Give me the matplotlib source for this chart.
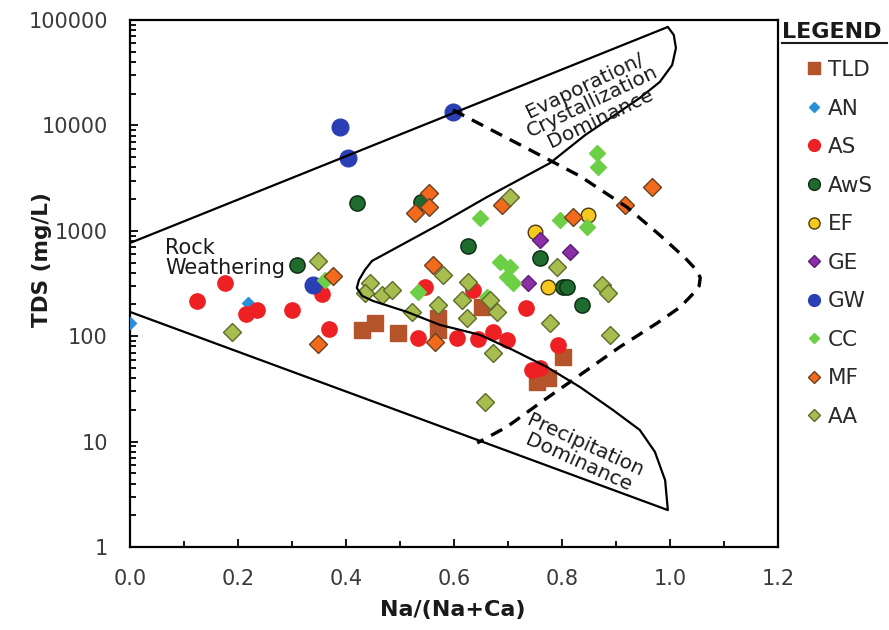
import matplotlib
matplotlib.use("Agg")
import matplotlib.pyplot as plt
from matplotlib.lines import Line2D
from matplotlib.ticker import LogLocator, MultipleLocator, NullFormatter

# Gibbs diagram: TDS vs Na/(Na+Ca)

# sample groups (x = Na/(Na+Ca), y = TDS in mg/L)
tld_x = [0.430, 0.454, 0.496, 0.570, 0.570, 0.652, 0.802, 0.754, 0.774]
tld_y = [115, 133, 107, 149, 115, 189, 63.5, 36.8, 40]

an_x = [0.0, 0.219]
an_y = [133, 207]

as_x = [0.124, 0.176, 0.215, 0.235, 0.300, 0.356, 0.369, 0.533, 0.546,
        0.606, 0.635, 0.644, 0.672, 0.698, 0.733, 0.793, 0.744, 0.759]
as_y = [216, 320, 162, 177, 177, 251, 117, 96, 293,
        96, 274, 94, 110, 92, 185, 83, 48, 50]

aws_x = [0.309, 0.538, 0.420, 0.626, 0.759, 0.802, 0.809, 0.837]
aws_y = [473, 1880, 1840, 718, 552, 293, 293, 198]

ef_x = [0.848, 0.750, 0.774]
ef_y = [1410, 974, 293]

ge_x = [0.759, 0.815, 0.737]
ge_y = [818, 629, 320]

gw_x = [0.389, 0.404, 0.598, 0.339]
gw_y = [9700, 4910, 13500, 306]

cc_x = [0.361, 0.533, 0.648, 0.661, 0.685, 0.704, 0.698, 0.709, 0.796,
        0.846, 0.865, 0.867]
cc_y = [341, 263, 1322, 235, 506, 454, 364, 320, 1266,
        1086, 5470, 4030]

mf_x = [0.376, 0.348, 0.528, 0.554, 0.554, 0.561, 0.565, 0.689, 0.820,
        0.917, 0.967]
mf_y = [373, 84, 1475, 2280, 1680, 473, 88, 1760, 1352,
        1760, 2600]

aa_x = [0.189, 0.348, 0.444, 0.435, 0.467, 0.485, 0.580, 0.626, 0.570,
        0.615, 0.522, 0.624, 0.667, 0.680, 0.672, 0.657, 0.704, 0.790,
        0.778, 0.874, 0.885, 0.889]
aa_y = [110, 517, 320, 257, 246, 274, 381, 327, 198,
        220, 170, 149, 220, 170, 69, 23.8, 2090, 450,
        133, 306, 257, 103]

# Gibbs boundary curves
outer_x = [0.0, 0.996, 1.007, 1.011, 1.004, 0.981, 0.944, 0.898, 0.843,
           0.778, 0.661, 0.574, 0.448, 0.435, 0.424, 0.420, 0.430, 0.450,
           0.513, 0.574, 0.648, 0.709, 0.772, 0.833, 0.894, 0.944, 0.972,
           0.991, 0.996, 0.0]
outer_y = [766, 85900, 72100, 54200, 37400, 25800, 18200, 12560, 8110,
           4400, 2090, 1160, 517, 425, 341, 287, 241, 216,
           170, 128, 103, 74, 51, 33, 20, 12.9, 8.0,
           4.3, 2.24, 170]

dash_x = [0.598, 0.741, 0.833, 0.920, 0.981, 1.028, 1.048, 1.056, 1.054,
          1.044, 1.019, 0.976, 0.907, 0.820, 0.759, 0.698, 0.643]
dash_y = [14000, 5840, 3310, 1680, 912, 552, 430, 360, 300,
          257, 189, 133, 79, 38.4, 23.2, 13.8, 9.7]

groups = ["TLD", "AN", "AS", "AwS", "EF", "GE", "GW", "CC", "MF", "AA"]
xs = [tld_x, an_x, as_x, aws_x, ef_x, ge_x, gw_x, cc_x, mf_x, aa_x]
ys = [tld_y, an_y, as_y, aws_y, ef_y, ge_y, gw_y, cc_y, mf_y, aa_y]

# marker, face, edge, size in plot, size in legend
styles = {
    "TLD": ("s", "#b5532b", "#b5532b", 11.5, 8.5),
    "AN":  ("D", "#2a8fd6", "#2a8fd6", 6.5, 5),
    "AS":  ("o", "#ee2024", "#ee2024", 11, 8.5),
    "AwS": ("o", "#1f6b2e", "#0b2a12", 11, 8.5),
    "EF":  ("o", "#f7c81e", "#4a3a12", 10.5, 8),
    "GE":  ("D", "#8c2ea6", "#5a1f70", 8.5, 6.5),
    "GW":  ("o", "#2b3fb5", "#2b3fb5", 12, 8.5),
    "CC":  ("D", "#6ccf45", "#6ccf45", 8.5, 5),
    "MF":  ("D", "#f26b1d", "#6b4020", 9, 6),
    "AA":  ("D", "#a7bd4f", "#5d6b2a", 9, 6),
}

plt.rcParams["font.family"] = "DejaVu Sans"

fig = plt.figure(figsize=(8.89, 6.3), dpi=100)
ax = fig.add_axes([130 / 889, 83 / 630, 648 / 889, 527 / 630])

handles = []
for g, x, y in zip(groups, xs, ys):
    m, fc, ec, ms, lms = styles[g]
    ax.plot(x, y, ls="none", marker=m, ms=ms, mfc=fc, mec=ec, mew=1.0, zorder=3)
    handles.append(Line2D([], [], ls="none", marker=m, ms=lms, mfc=fc, mec=ec,
                          mew=1.0, label=g))

ax.plot(outer_x, outer_y, color="black", lw=1.6, solid_joinstyle="round", zorder=4)
ax.plot(dash_x, dash_y, color="black", lw=2.4, dashes=(3.8, 2.6),
        dash_capstyle="butt", zorder=4)

ax.text(0.065, 552, "Rock\nWeathering", ha="left", va="center", fontsize=15,
        linespacing=1.0, color="#1a1a1a", zorder=5)
ax.text(0.857, 16700, "Evaporation/\nCrystallization\nDominance", ha="center",
        va="center", rotation=25.5, rotation_mode="anchor", fontsize=14.5,
        linespacing=0.95, color="#1a1a1a", zorder=5)
ax.text(0.837, 7.6, "Precipitation\nDominance", ha="center", va="center",
        rotation=-24.5, rotation_mode="anchor", fontsize=14.5,
        linespacing=0.95, color="#1a1a1a", zorder=5)

ax.set_xlim(0, 1.2)
ax.set_yscale("log")
ax.set_ylim(1, 100000)

x_ticks = [0.0, 0.2, 0.4, 0.6, 0.8, 1.0, 1.2]
x_labels = ["0.0", "0.2", "0.4", "0.6", "0.8", "1.0", "1.2"]
y_ticks = [1, 10, 100, 1000, 10000, 100000]
y_labels = ["1", "10", "100", "1000", "10000", "100000"]
ax.set_xticks(x_ticks, x_labels)
ax.set_yticks(y_ticks, y_labels)
ax.xaxis.set_minor_locator(MultipleLocator(0.1))
ax.yaxis.set_minor_locator(LogLocator(base=10, subs=range(2, 10)))
ax.yaxis.set_minor_formatter(NullFormatter())

ax.tick_params(which="both", direction="in", width=1.3, color="black",
               labelcolor="#3a3a3a", labelsize=15, pad=16)
ax.tick_params(which="major", length=6)
ax.tick_params(which="minor", length=4.5)
for sp in ax.spines.values():
    sp.set_linewidth(1.6)

fig.text(42 / 889, 1 - 260 / 630, "TDS (mg/L)", rotation=90, ha="center",
         va="center", fontsize=15.5, fontweight="bold", color="#1a1a1a")
fig.text(453 / 889, 1 - 610 / 630, "Na/(Na+Ca)", ha="center", va="center",
         fontsize=16, fontweight="bold", color="#1a1a1a")

# legend on the right, with an underlined heading
fig.text(782 / 889, 1 - 32 / 630, "LEGEND", ha="left", va="center",
         fontsize=16, fontweight="bold", color="#1a1a1a")
fig.add_artist(Line2D([782 / 889, 887 / 889], [1 - 43 / 630, 1 - 43 / 630],
                      color="#1a1a1a", lw=1.5))
fig.legend(handles=handles, loc="upper left",
           bbox_to_anchor=(806 / 889, 1 - 60 / 630), frameon=False,
           fontsize=15.5, handlelength=0.75, handletextpad=0.28,
           labelspacing=0.86, borderpad=0, borderaxespad=0,
           labelcolor="#2a2a2a")

fig.savefig("out.png", dpi=100)
